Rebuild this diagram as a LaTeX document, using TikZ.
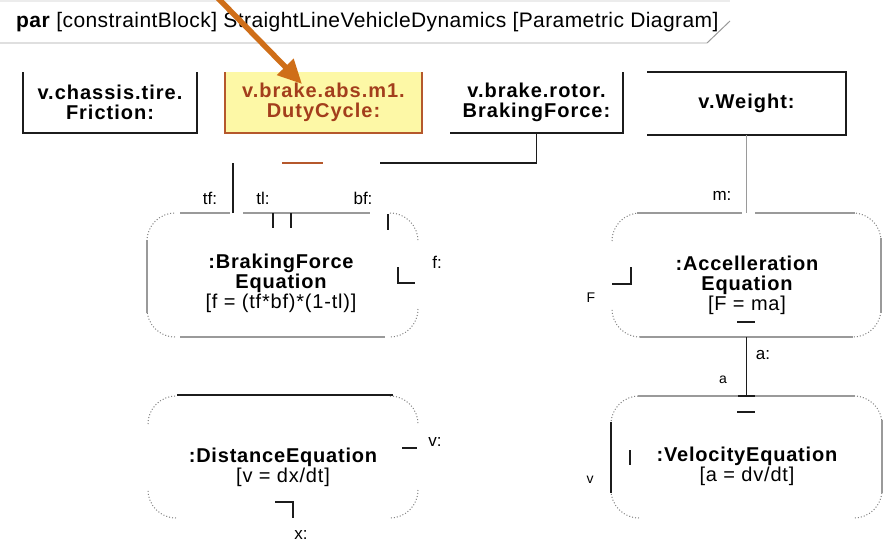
\documentclass[tikz,border=0pt]{standalone}
\usepackage{fontspec}
\setmainfont{Liberation Sans}
\usetikzlibrary{arrows.meta}

\definecolor{dutyfill}{HTML}{FDF8A6}
\definecolor{dutyedge}{HTML}{B5582C}
\definecolor{dutytext}{HTML}{A33E1C}
\definecolor{calloutorange}{HTML}{CF6E18}
\definecolor{edgegray}{HTML}{9A9A9A}
\definecolor{inkblack}{HTML}{1C1C1C}

\tikzset{
  valbox/.style={inner sep=0pt, outer sep=0pt, align=center,
    font=\bfseries\fontsize{20}{20}\selectfont\addfontfeature{LetterSpace=5}},
  cblock/.style={inner sep=0pt, outer sep=0pt},
  eqname/.style={align=center, inner sep=0pt,
    font=\bfseries\fontsize{20}{20}\selectfont\addfontfeature{LetterSpace=4}},
  portlabel/.style={inner sep=0pt, font=\fontsize{17}{17}\selectfont},
  tinylabel/.style={inner sep=0pt, font=\fontsize{14}{14}\selectfont},
  darkline/.style={draw=inkblack, line width=1.5pt},
  grayline/.style={draw=edgegray, line width=1.2pt},
  corner/.style={draw=gray, line width=1pt, dotted},
  dutyline/.style={draw=dutyedge, line width=1.5pt},
  callout/.style={draw=calloutorange, line width=5.5pt,
    -{Triangle[length=24pt, width=22pt]}}
}

\begin{document}
\begin{tikzpicture}[x=1pt, y=-1pt]
\useasboundingbox (0,0) rectangle (891,549);

% Frame heading
\draw[gray!15, line width=1.5pt] (0,1) -- (730,1);
\draw[gray!25, line width=2pt] (0,43) -- (707,43);
\draw[gray!80, line width=1pt] (707,43) -- (730,21);
\node[anchor=west, inner sep=0pt,
  font=\fontsize{21}{21}\selectfont\addfontfeature{LetterSpace=2}] (title) at (16,22)
  {\textbf{par} [constraintBlock] StraightLineVehicleDynamics [Parametric Diagram]};

% Value properties
\node[valbox, minimum width=174pt, minimum height=61pt] (friction) at (110,102.5)
  {v.chassis.tire.\\Friction:};
\draw[darkline] (friction.north west) |- (friction.south east) -- (friction.north east);

\node[valbox, fill=dutyfill, text=dutytext, minimum width=197pt, minimum height=61pt]
  (duty) at (323.5,102.5) {v.brake.abs.m1.\\DutyCycle:};
\draw[dutyline] (duty.north west) |- (duty.south east) -- (duty.north east);

\node[valbox, minimum width=173pt, minimum height=61pt] (rotor) at (536.5,102.5)
  {v.brake.rotor.\\BrakingForce:};
\draw[darkline] (rotor.south west) -- (rotor.south east) -- (rotor.north east);

\node[valbox, minimum width=199pt, minimum height=63pt] (weight) at (746.5,103.5)
  {v.Weight:};
\draw[darkline] (weight.north west) -- (weight.north east) |- (weight.south west);

% Constraint properties
\node[cblock, minimum width=271pt, minimum height=124pt] (brake) at (282.5,275) {};
\node[cblock, minimum width=269pt, minimum height=124pt] (accel) at (746.5,275) {};
\node[cblock, minimum width=270pt, minimum height=122pt] (dist) at (283,457) {};
\node[cblock, minimum width=271pt, minimum height=122pt] (vel) at (746.5,457) {};

\node[eqname] (brakeEq) at (281,283)
  {:BrakingForce\\Equation\\{\mdseries [f = (tf*bf)*(1-tl)]}};
\node[eqname] (accelEq) at (747,285)
  {:Accelleration\\Equation\\{\mdseries [F = ma]}};
\node[eqname] (distEq) at (283,467)
  {:DistanceEquation\\{\mdseries [v = dx/dt]}};
\node[eqname] (velEq) at (747,466)
  {:VelocityEquation\\{\mdseries [a = dv/dt]}};

% rounded corners
\foreach \b in {brake,accel,dist,vel} {
  \draw[corner] ([yshift=-28pt]\b.north west) arc[start angle=180, end angle=90, radius=28pt];
  \draw[corner] ([xshift=-28pt]\b.north east) arc[start angle=90, end angle=0, radius=28pt];
  \draw[corner] ([yshift=28pt]\b.south east) arc[start angle=0, end angle=-90, radius=28pt];
  \draw[corner] ([xshift=28pt]\b.south west) arc[start angle=270, end angle=180, radius=28pt];
}

% sides
\draw[grayline] (180,213) -- (230,213);
\draw[grayline] (243,213) -- (370,213);
\draw[grayline] (147,240) -- (147,313);
\draw[grayline] (180,337) -- (385,337);
\draw[grayline] (637,213) -- (742,213);
\draw[grayline] (755,213) -- (855,213);
\draw[grayline] (881,238) -- (881,313);
\draw[grayline] (640,337) -- (853,337);
\draw[grayline] (638,396) -- (855,396);
\draw[grayline] (882,420) -- (882,493);
\draw[darkline] (611,422) -- (611,493);
\draw[darkline] (177,395) -- (393,395);

% ports
\coordinate (tf) at (233,213);
\coordinate (bf) at (380,163);
\draw[darkline] (tf) -- ++(0,-50);
\draw[darkline] (rotor.south) |- (bf);
\draw[dutyline] (282,163) -- (323,163);
\draw[darkline] (273,213) -- (273,228);
\draw[darkline] (291,213) -- (291,228);
\draw[darkline] (388,214) -- (388,230);
\draw[darkline] (398,267) |- (415,283);
\draw[darkline] (631,267) |- (612,284);
\draw[darkline] (737,322) -- (755,322);
\draw[darkline] (738,396) -- (755,396);
\draw[darkline] (737,412) -- (755,412);
\draw[darkline] (630,450) -- (630,465);
\draw[darkline] (402,448) -- (417,448);
\draw[darkline] (275,502) -| (293,518);

% bindings
\draw[grayline] (weight.south) -- (accel.north);
\draw[darkline] (accel.south) -- (vel.north);

% port names
\node[portlabel] (tfLabel) at (210,198) {tf:};
\node[portlabel] (tlLabel) at (263,198) {tl:};
\node[portlabel] (bfLabel) at (363,198) {bf:};
\node[portlabel] (fLabel) at (437,262) {f:};
\node[portlabel] (mLabel) at (722,196) {m:};
\node[portlabel] (aLabel) at (763,355) {a:};
\node[portlabel] (vLabel) at (435,442) {v:};
\node[portlabel] (xLabel) at (301,535) {x:};
\node[tinylabel] (FLabel) at (591,298) {F};
\node[tinylabel] (aName) at (723,380) {a};
\node[tinylabel] (vName) at (590,480) {v};

% Callout
\coordinate (calloutStart) at (212,-8);
\coordinate (calloutTip) at (302,84);
\draw[callout] (calloutStart) -- (calloutTip);

\end{tikzpicture}
\end{document}
